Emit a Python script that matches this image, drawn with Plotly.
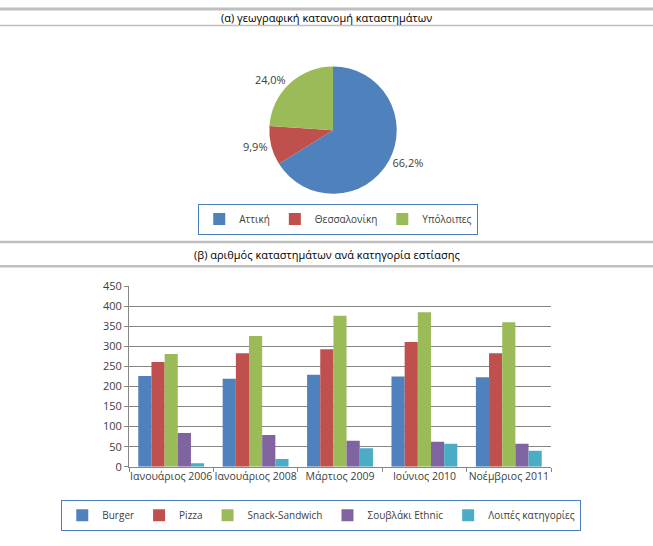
import plotly.graph_objects as go

# (α) γεωγραφική κατανομή
pie_labels = ['Αττική', 'Θεσσαλονίκη', 'Υπόλοιπες']
pie_values = [66.2, 9.9, 24.0]
pie_colors = ['#4F81BD', '#C0504D', '#9BBB59']

# (β) αριθμός καταστημάτων ανά κατηγορία
periods = ['Ιανουάριος 2006', 'Ιανουάριος 2008', 'Μάρτιος 2009', 'Ιούνιος 2010', 'Νοέμβριος 2011']
burger = [226, 219, 229, 225, 223]
pizza = [261, 283, 293, 311, 283]
snack = [281, 326, 376, 385, 360]
souvlaki = [84, 79, 65, 62, 57]
loipes = [9, 19, 46, 57, 40]

bar_series = [
    ('Burger', burger, '#4F81BD'),
    ('Pizza', pizza, '#C0504D'),
    ('Snack-Sandwich', snack, '#9BBB59'),
    ('Σουβλάκι Ethnic', souvlaki, '#8064A2'),
    ('Λοιπές κατηγορίες', loipes, '#4BACC6'),
]

W, H = 653, 546
FONT = 'Open Sans'

fig = go.Figure()

fig.add_trace(go.Pie(
    labels=pie_labels, values=pie_values,
    marker=dict(colors=pie_colors, line=dict(width=0)),
    sort=False, direction='clockwise', rotation=0,
    textposition='outside', texttemplate='%{value:.1f}%',
    textfont=dict(size=11, color='#404040'),
    domain=dict(x=[0.28, 0.74], y=[0.65, 0.89]),
    legend='legend', hoverinfo='label+percent',
))

for name, vals, col in bar_series:
    fig.add_bar(x=periods, y=vals, name=name, marker=dict(color=col, line=dict(width=0)),
                legend='legend2')

def py(px_from_top):
    return 1 - px_from_top / H

# horizontal separator lines
for y0, w in [(1, 3), (18, 1.5), (240.5, 2.5), (265.5, 2.5)]:
    fig.add_shape(type='line', xref='paper', yref='paper', x0=0, x1=1, y0=py(y0), y1=py(y0),
                  line=dict(color='#BFBFBF', width=w))

fig.add_annotation(text='(α) γεωγραφική κατανομή καταστημάτων', x=0.5, y=py(10), xref='paper', yref='paper',
                   yanchor='middle', showarrow=False, font=dict(size=11, color='#000000'))
fig.add_annotation(text='(β) αριθμός καταστημάτων ανά κατηγορία εστίασης', x=0.5, y=py(253), xref='paper',
                   yref='paper', yanchor='middle', showarrow=False, font=dict(size=11, color='#000000'))

fig.update_layout(
    width=W, height=H, autosize=False,
    margin=dict(l=0, r=0, t=0, b=0),
    paper_bgcolor='white', plot_bgcolor='white',
    font=dict(family=FONT, size=11, color='#404040'),
    separators=',.',
    barmode='group', bargap=0.22, bargroupgap=0,
    showlegend=True,
    legend=dict(orientation='h', x=0.518, y=py(217), xanchor='center', yanchor='middle',
                bordercolor='#4A7EBB', borderwidth=1, font=dict(size=10, color='#404040'),
                itemwidth=30, tracegroupgap=0),
    legend2=dict(orientation='h', x=0.492, y=py(521.5), xanchor='center', yanchor='middle',
                 bordercolor='#4A7EBB', borderwidth=1, font=dict(size=10, color='#404040'),
                 itemwidth=30),
    xaxis=dict(domain=[129 / W, 551 / W], type='category', tickson='boundaries', ticks='outside',
               ticklen=4, tickcolor='#868686', showline=True, linecolor='#868686', showgrid=False,
               tickangle=0, tickfont=dict(size=10.5, color='#404040'), anchor='y'),
    yaxis=dict(domain=[py(471.7), py(286)], range=[0, 450], dtick=50, ticks='outside', ticklen=4,
               tickcolor='#868686', showline=True, linecolor='#868686', gridcolor='#868686',
               gridwidth=1, tickfont=dict(size=11, color='#404040'), zeroline=False),
)

pin_page = (
    "var d=document.getElementById('{plot_id}');"
    "d.style.position='fixed';d.style.left='0';d.style.top='0';"
    "document.body.style.margin='0';"
    "document.documentElement.style.overflow='hidden';document.body.style.overflow='hidden';"
)
fig.write_html('out.html', config={'responsive': False, 'displayModeBar': False}, post_script=pin_page)
